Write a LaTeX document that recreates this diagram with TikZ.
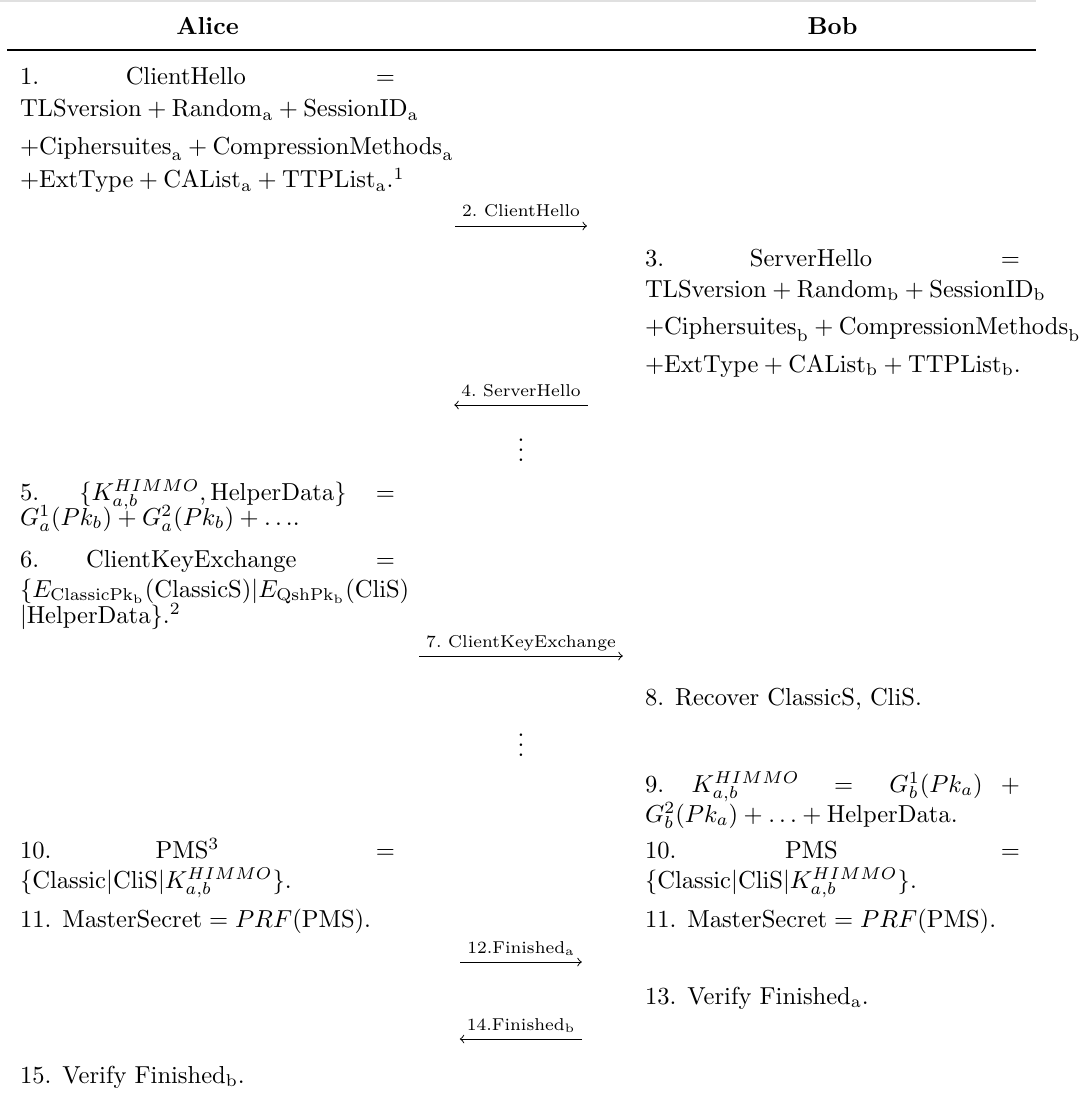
\documentclass[tikz,border=0pt]{standalone}
\usetikzlibrary{calc}
\newlength\colw
\setlength\colw{152.7pt}
\newcommand\jbox[1]{\hbox to\colw{#1}}
\newcommand\gl[1]{\hskip0pt plus #1fil\relax}
\newcommand\rs[2]{\mathrm{#1}_{\mathrm{#2}}}
\begin{document}
\begin{tikzpicture}[x=0.4073pt,y=-0.4073pt,
  txt/.style={anchor=base west,inner sep=0pt,outer sep=0pt},
  hdr/.style={anchor=base,inner sep=0pt,font=\bfseries},
  lab/.style={anchor=base,inner sep=0pt,outer sep=0pt,font=\scriptsize},
  msg/.style={->,line width=0.4pt},
  midrule/.style={line width=0.7pt},
  toprule/.style={line width=0.6pt,black!12},
  vd/.style={anchor=base,inner sep=0pt}]
\useasboundingbox (0,0) rectangle (1090,1097);
% rules
\coordinate (t0) at (0,1); \coordinate (t1) at (1036,1);
\draw[toprule] (t0) -- (t1);
\coordinate (m0) at (7,50); \coordinate (m1) at (1036,50);
\draw[midrule] (m0) -- (m1);
% headers
\node[hdr] (hA) at (207.5,35) {Alice};
\node[hdr] (hB) at (832.5,35) {Bob};
% Alice 1
\node[txt] (a1) at (20,85) {\jbox{1.\gl{2}ClientHello\gl{3}$=$}};
\node[txt] (a1b) at (20,117) {$\mathrm{TLSversion}+\rs{Random}{a}+\rs{SessionID}{a}$};
\node[txt] (a1c) at (20,155) {$+\rs{Ciphersuites}{a}+\rs{CompressionMethods}{a}$};
\node[txt] (a1d) at (20,188) {$+\mathrm{ExtType}+\rs{CAList}{a}+\rs{TTPList}{a}$.\textsuperscript{1}};
% arrow 2
\node[lab] (l2) at (521,217) {2.~ClientHello};
\coordinate (s2) at ($(l2.base west)+(-7,9)$);
\coordinate (e2) at ($(l2.base east)+(7,9)$);
\draw[msg] (s2) -- (e2);
% Bob 3
\node[txt] (b3) at (645,267) {\jbox{3.\gl{2}ServerHello\gl{3}$=$}};
\node[txt] (b3b) at (645,297) {$\mathrm{TLSversion}+\rs{Random}{b}+\rs{SessionID}{b}$};
\node[txt] (b3c) at (645,335) {$+\rs{Ciphersuites}{b}+\rs{CompressionMethods}{b}$};
\node[txt] (b3d) at (645,372) {$+\mathrm{ExtType}+\rs{CAList}{b}+\rs{TTPList}{b}$.};
% arrow 4
\node[lab] (l4) at (521,396) {4.~ServerHello};
\coordinate (s4) at ($(l4.base east)+(7,9)$);
\coordinate (e4) at ($(l4.base west)+(-7,9)$);
\draw[msg] (s4) -- (e4);
% dots
\node[vd] (d1) at (521,461) {$\vdots$};
% Alice 5, 6
\node[txt] (a5) at (20,500) {\jbox{5.\gl{22}$\{K_{a,b}^{HIMMO},\mathrm{HelperData}\}$\gl{16}$=$}};
\node[txt] (a5b) at (20,525) {$G_a^1(Pk_b)+G_a^2(Pk_b)+\ldots$.};
\node[txt] (a6) at (20,567) {\jbox{6.\gl{47}ClientKeyExchange\gl{79}$=$}};
\node[txt] (a6b) at (20,597) {$\{E_{\mathrm{ClassicPk_b}}(\mathrm{ClassicS})|E_{\mathrm{QshPk_b}}(\mathrm{CliS})$};
\node[txt] (a6c) at (20,623) {$|\mathrm{HelperData}\}$.\textsuperscript{2}};
% arrow 7
\node[lab] (l7) at (521,647) {7.~ClientKeyExchange};
\coordinate (s7) at ($(l7.base west)+(-7,9)$);
\coordinate (e7) at ($(l7.base east)+(7,9)$);
\draw[msg] (s7) -- (e7);
% Bob 8
\node[txt] (b8) at (645,705) {8. Recover ClassicS, CliS.};
\node[vd] (d2) at (521,756) {$\vdots$};
% Bob 9
\node[txt] (b9) at (645,792) {\jbox{9.\gl{32}$K_{a,b}^{HIMMO}$\gl{40}$=$\gl{42}$G_b^1(Pk_a)$\gl{21}$+$}};
\node[txt] (b9b) at (645,822) {$G_b^2(Pk_a)+\ldots+\mathrm{HelperData}$.};
% 10, 11
\node[txt] (a10) at (20,858) {\jbox{10.\gl{2}PMS\textsuperscript{3}\gl{3}$=$}};
\node[txt] (a10b) at (20,888) {$\{\mathrm{Classic}|\mathrm{CliS}|K_{a,b}^{HIMMO}\}$.};
\node[txt] (a11) at (20,927) {11. $\mathrm{MasterSecret}=PRF(\mathrm{PMS})$.};
\node[txt] (b10) at (645,858) {\jbox{10.\gl{2}PMS\gl{3}$=$}};
\node[txt] (b10b) at (645,888) {$\{\mathrm{Classic}|\mathrm{CliS}|K_{a,b}^{HIMMO}\}$.};
\node[txt] (b11) at (645,927) {11. $\mathrm{MasterSecret}=PRF(\mathrm{PMS})$.};
% arrow 12
\node[lab] (l12) at (521,953) {12.Finished$_{\mathrm{a}}$};
\coordinate (s12) at ($(l12.base west)+(-7,9)$);
\coordinate (e12) at ($(l12.base east)+(7,9)$);
\draw[msg] (s12) -- (e12);
% Bob 13
\node[txt] (b13) at (645,1004) {13. Verify Finished$_{\mathrm{a}}$.};
% arrow 14
\node[lab] (l14) at (521,1030) {14.Finished$_{\mathrm{b}}$};
\coordinate (s14) at ($(l14.base east)+(7,9)$);
\coordinate (e14) at ($(l14.base west)+(-7,9)$);
\draw[msg] (s14) -- (e14);
% Alice 15
\node[txt] (a15) at (20,1083) {15. Verify Finished$_{\mathrm{b}}$.};
\end{tikzpicture}
\end{document}
